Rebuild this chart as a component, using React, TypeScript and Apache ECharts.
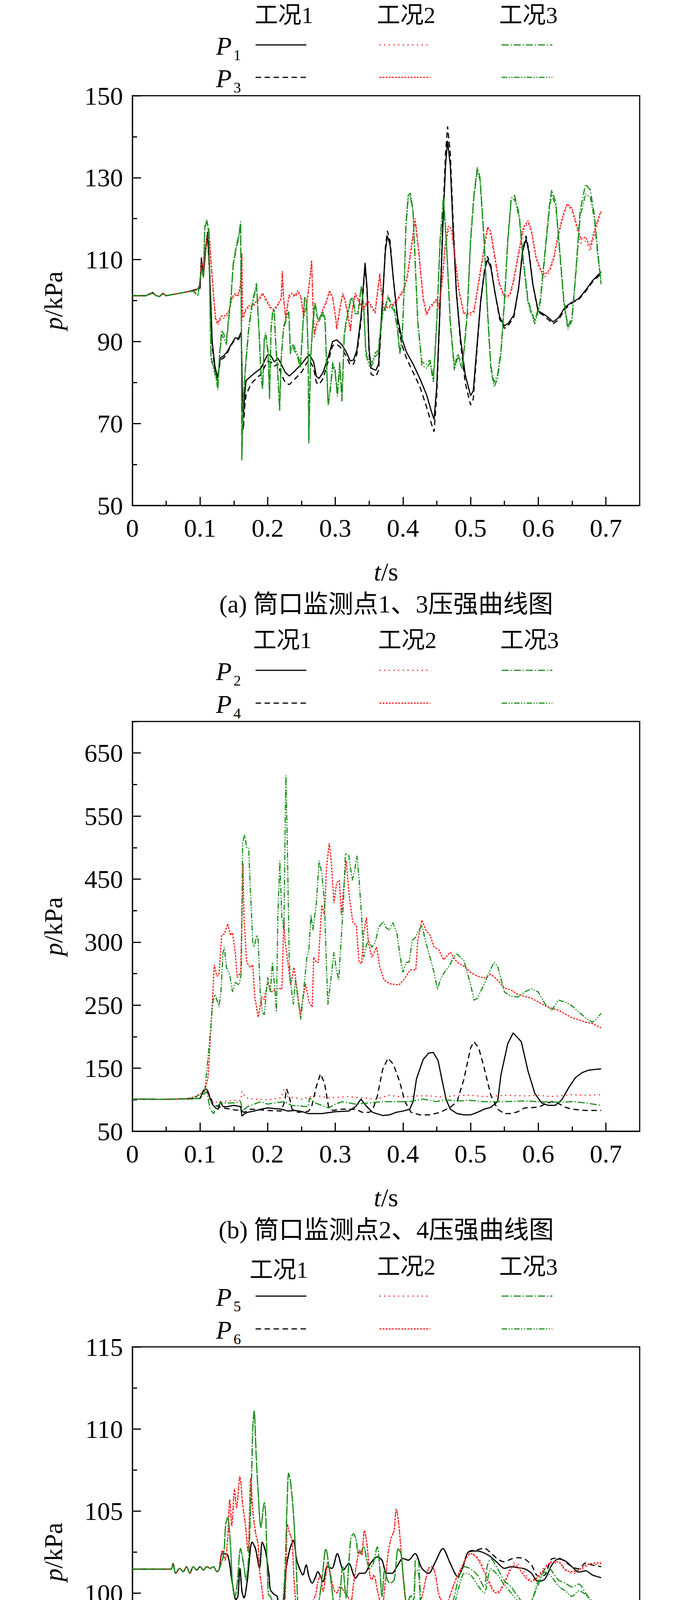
import React, { useEffect, useRef } from 'react';
import * as echarts from 'echarts';

type Pt = [number, number];

// ---------------- tick values / labels ----------------
const xTickVals = [0, 0.1, 0.2, 0.3, 0.4, 0.5, 0.6, 0.7];
const xMinorVals = [0.05, 0.15, 0.25, 0.35, 0.45, 0.55, 0.65];

const yTickA = [50, 70, 90, 110, 130, 150];
const yMinorA = [60, 80, 100, 120, 140];
const yTickB = [50, 150, 250, 350, 450, 550, 650];
const yLabelB = ['50', '150', '250', '300', '450', '550', '650'];
const yMinorB = [100, 200, 300, 400, 500, 600, 700];
const yTickC = [90, 95, 100, 105, 110, 115];
const yMinorC = [92.5, 97.5, 102.5, 107.5, 112.5];
const yTickD = [95, 105, 115, 125, 135, 145, 155, 165];
const yMinorD = [100, 110, 120, 130, 140, 150, 160, 170];
const yTickE = [92, 95, 98, 101, 104, 107, 110, 113];
const yMinorE = [93.5, 96.5, 99.5, 102.5, 105.5, 108.5, 111.5];

const conditions = ['工况1', '工况2', '工况3'];
const captions = [
  '(a) 筒口监测点1、3压强曲线图',
  '(b) 筒口监测点2、4压强曲线图',
  '(c) 筒口监测点5、6压强曲线图',
  '(d) 筒口监测点7压强曲线图',
  '(e) 筒口监测点8、9压强曲线图',
];

// ---------------- panel (a): P1 / P3 ----------------
const a_P1_c1: Pt[] = [[0,101.2],[0.02,101.2],[0.03,102.0],[0.035,101.2],[0.04,101.0],[0.045,101.8],[0.05,101.2],[0.06,101.5],[0.07,101.8],[0.08,102.1],[0.09,102.5],[0.1,103],[0.102,110.5],[0.105,106],[0.108,112],[0.111,116.5],[0.114,108],[0.118,90],[0.122,84],[0.126,81.2],[0.13,86],[0.135,86.5],[0.14,87.5],[0.145,89],[0.152,90.9],[0.157,90.8],[0.161,92.4],[0.1625,78],[0.164,71.5],[0.166,77],[0.168,80.5],[0.175,81.5],[0.18,82.2],[0.19,83.5],[0.196,85.5],[0.2,86.8],[0.205,86.5],[0.21,85],[0.215,86],[0.22,84.5],[0.226,82.5],[0.232,81.6],[0.24,82.8],[0.25,84.5],[0.258,86.2],[0.262,86.8],[0.268,85],[0.272,81.5],[0.276,81],[0.282,82.5],[0.29,86.5],[0.296,90],[0.302,90.4],[0.31,89.2],[0.316,87.5],[0.322,85.3],[0.327,85.5],[0.332,88],[0.338,96],[0.344,109.2],[0.347,103],[0.35,88],[0.353,83.5],[0.36,83],[0.364,84.5],[0.369,98],[0.374,112],[0.377,115.8],[0.381,113.5],[0.386,105],[0.392,96],[0.398,91],[0.405,87.5],[0.415,84.5],[0.425,81],[0.435,77],[0.442,73],[0.446,71],[0.45,79],[0.454,95],[0.459,118],[0.463,133],[0.466,139],[0.47,133],[0.474,118],[0.479,102],[0.485,91],[0.492,82],[0.5,76.8],[0.504,78],[0.509,88],[0.515,100],[0.521,107.5],[0.525,110],[0.53,108],[0.536,102],[0.543,96],[0.55,93.8],[0.556,94.5],[0.564,96.5],[0.571,103],[0.577,112],[0.582,115],[0.586,112],[0.592,104],[0.6,97.5],[0.607,96.8],[0.614,96],[0.622,94.8],[0.63,95.8],[0.64,98.5],[0.65,99.6],[0.66,100.5],[0.67,102.5],[0.68,104.8],[0.687,106],[0.693,107]];
const a_P3_c1: Pt[] = [[0,101.2],[0.02,101.2],[0.03,101.9],[0.035,101.2],[0.04,101.0],[0.045,101.7],[0.05,101.2],[0.06,101.5],[0.07,101.8],[0.08,102.1],[0.09,102.5],[0.1,103],[0.102,110],[0.105,106],[0.108,112],[0.111,116.8],[0.114,107],[0.118,89],[0.122,83],[0.126,80.5],[0.13,85.5],[0.135,86],[0.14,87],[0.145,88.8],[0.152,90.6],[0.157,90.5],[0.161,92],[0.1625,76],[0.164,68.5],[0.166,74],[0.168,77],[0.175,79.5],[0.18,80.5],[0.19,82],[0.196,84],[0.2,85.2],[0.205,85],[0.21,84],[0.215,84.5],[0.22,82],[0.226,80],[0.232,79.5],[0.24,80.8],[0.25,82.5],[0.258,84.8],[0.262,85.5],[0.268,83.5],[0.272,80],[0.276,79.5],[0.282,81],[0.29,85.5],[0.296,89],[0.302,89.4],[0.31,88.2],[0.316,86.5],[0.322,84.3],[0.327,84.5],[0.332,87],[0.338,95],[0.344,108.5],[0.347,102],[0.35,87],[0.353,82],[0.36,81.5],[0.364,83],[0.369,97],[0.374,113],[0.377,117],[0.381,114.5],[0.386,105],[0.392,95],[0.398,89.5],[0.405,86],[0.415,82.5],[0.425,79],[0.435,74],[0.442,70],[0.446,68],[0.45,77],[0.454,94],[0.459,120],[0.463,136],[0.466,142.5],[0.47,136],[0.474,120],[0.479,102],[0.485,90],[0.492,80],[0.5,74.5],[0.504,76],[0.509,87],[0.515,100],[0.521,108],[0.525,110.8],[0.53,108.5],[0.536,102],[0.543,95.5],[0.55,93.2],[0.556,94],[0.564,96],[0.571,103],[0.577,112.5],[0.582,115.8],[0.586,112.5],[0.592,104],[0.6,97.2],[0.607,96.5],[0.614,95.5],[0.622,94.3],[0.63,95.3],[0.64,98],[0.65,99.4],[0.66,100.3],[0.67,102.2],[0.68,104.5],[0.687,105.6],[0.693,106.5]];
const a_P1_c2: Pt[] = [[0,101.2],[0.02,101.2],[0.03,101.9],[0.035,101.2],[0.04,101.0],[0.045,101.7],[0.05,101.2],[0.06,101.5],[0.07,101.8],[0.08,102.1],[0.09,102.4],[0.0946,102.6],[0.099,103.5],[0.1026,108.9],[0.106,107.2],[0.1095,114.1],[0.113,117],[0.1163,108.9],[0.12,100.8],[0.123,95.1],[0.1265,93.9],[0.131,95.7],[0.137,95.7],[0.1425,96.8],[0.147,100.3],[0.1516,101.4],[0.156,100.8],[0.1596,103.2],[0.1618,110.7],[0.163,95.1],[0.1675,97.4],[0.172,98.5],[0.1766,98],[0.181,99.1],[0.1858,99.7],[0.1926,101.4],[0.1983,99.7],[0.204,98],[0.2085,97.4],[0.2142,98.5],[0.22,100.3],[0.2217,106.6],[0.2233,100.8],[0.2267,95.1],[0.2313,100.8],[0.236,101.4],[0.2404,100.8],[0.245,102],[0.2495,100.3],[0.253,95.7],[0.2575,98.5],[0.262,104.3],[0.265,109.2],[0.267,98.5],[0.269,91],[0.2723,93.9],[0.2769,95.1],[0.2814,97.4],[0.286,99.1],[0.2917,102],[0.2962,100.3],[0.3008,95.1],[0.302,92.8],[0.3065,97.4],[0.311,101.4],[0.3145,99.7],[0.318,96.8],[0.3224,92.2],[0.3247,96.8],[0.3293,101.4],[0.3315,100.8],[0.336,99.1],[0.3418,97.4],[0.3475,99.7],[0.3543,98],[0.3589,96.8],[0.3657,106.1],[0.368,102],[0.3725,97.4],[0.377,98],[0.384,98.5],[0.3908,99.7],[0.3976,101.4],[0.402,102.6],[0.4067,105.5],[0.4135,113.6],[0.418,119.4],[0.423,112],[0.43,100],[0.435,96.2],[0.44,98],[0.445,99],[0.45,100],[0.453,98],[0.458,104],[0.462,112],[0.467,117],[0.472,116.5],[0.477,110],[0.483,102],[0.49,96.5],[0.497,96.2],[0.505,97],[0.51,102],[0.518,110],[0.525,117.4],[0.53,116],[0.535,111],[0.542,104],[0.55,100.6],[0.558,101],[0.563,104],[0.57,110],[0.578,117],[0.585,119],[0.59,116.5],[0.597,110],[0.605,106.5],[0.61,105.8],[0.617,107],[0.623,110],[0.63,116],[0.638,121],[0.643,123.3],[0.65,122],[0.658,117],[0.663,114],[0.67,114.5],[0.677,112],[0.683,116],[0.69,120],[0.693,121.5]];
const a_P3_c2: Pt[] = [[0,101.2],[0.02,101.2],[0.03,101.9],[0.035,101.2],[0.04,101.0],[0.045,101.7],[0.05,101.2],[0.06,101.5],[0.07,101.8],[0.08,102.1],[0.09,102.4],[0.0946,102.5],[0.099,103.3],[0.1026,109.5],[0.106,107.5],[0.1095,114.8],[0.113,117.5],[0.1163,109.5],[0.12,101.5],[0.123,95.6],[0.1265,94.5],[0.131,96.2],[0.137,96.3],[0.1425,97.4],[0.147,100.6],[0.1516,101.7],[0.156,101.2],[0.1596,103.6],[0.1618,111.5],[0.163,95.8],[0.1675,97.8],[0.172,98.8],[0.1766,98.4],[0.181,99.5],[0.1858,100.1],[0.1926,101.8],[0.1983,100.1],[0.204,98.4],[0.2085,97.8],[0.2142,98.8],[0.22,100.6],[0.2217,107.2],[0.2233,101.2],[0.2267,95.6],[0.2313,101.2],[0.236,101.8],[0.2404,101.2],[0.245,102.4],[0.2495,100.7],[0.253,96.2],[0.2575,98.9],[0.262,104.8],[0.265,109.8],[0.267,99],[0.269,91.6],[0.2723,94.4],[0.2769,95.6],[0.2814,97.8],[0.286,99.5],[0.2917,102.4],[0.2962,100.7],[0.3008,95.6],[0.302,93.3],[0.3065,97.8],[0.311,101.8],[0.3145,100.1],[0.318,97.2],[0.3224,92.8],[0.3247,97.2],[0.3293,101.8],[0.3315,101.2],[0.336,99.5],[0.3418,97.8],[0.3475,100.1],[0.3543,98.4],[0.3589,97.2],[0.3657,106.6],[0.368,102.4],[0.3725,97.8],[0.377,98.4],[0.384,98.9],[0.3908,100.1],[0.3976,101.8],[0.402,103],[0.4067,106.2],[0.4135,114.5],[0.418,120],[0.423,112.8],[0.43,100.6],[0.435,96.8],[0.44,98.5],[0.445,99.4],[0.45,100.4],[0.453,98.5],[0.458,104.8],[0.462,113],[0.467,118.2],[0.472,117.5],[0.477,110.6],[0.483,102.4],[0.49,97],[0.497,96.7],[0.505,97.5],[0.51,102.6],[0.518,110.8],[0.525,118],[0.53,116.8],[0.535,111.6],[0.542,104.5],[0.55,101],[0.558,101.4],[0.563,104.6],[0.57,110.8],[0.578,117.8],[0.585,119.5],[0.59,117],[0.597,110.5],[0.605,107],[0.61,106.4],[0.617,107.6],[0.623,110.6],[0.63,116.5],[0.638,121.6],[0.643,123.6],[0.65,122.5],[0.658,117.8],[0.663,115],[0.67,115.5],[0.677,113],[0.683,117],[0.69,120.6],[0.693,121.8]];
const a_P1_c3: Pt[] = [[0,101.2],[0.02,101.2],[0.03,101.8],[0.035,101.2],[0.04,101.0],[0.045,101.6],[0.05,101.2],[0.06,101.5],[0.07,101.8],[0.08,102.1],[0.09,102.3],[0.0946,101.7],[0.097,101.4],[0.099,104.3],[0.1026,107.8],[0.105,105.5],[0.107,117.6],[0.11,119.3],[0.113,116.5],[0.1147,98.5],[0.1163,85.3],[0.12,84.1],[0.123,82.4],[0.1265,78.9],[0.1288,87],[0.132,92.8],[0.1357,91.6],[0.139,90.2],[0.1425,96.2],[0.146,101.4],[0.149,109],[0.1539,113.6],[0.1573,115.9],[0.16,119.3],[0.1612,92.8],[0.1618,61],[0.164,75.4],[0.1675,84.1],[0.172,92.8],[0.1766,98.5],[0.1835,103.7],[0.187,92.8],[0.1903,81.2],[0.1926,78.3],[0.1949,89.9],[0.197,91.6],[0.2006,87],[0.2028,76],[0.205,92.8],[0.2074,96.8],[0.2097,97.4],[0.212,88.7],[0.2142,84.1],[0.2177,73.1],[0.22,85.3],[0.2233,92.8],[0.2279,95.7],[0.2313,96.8],[0.2336,87],[0.237,88.7],[0.2404,87.6],[0.245,85.8],[0.2484,83.5],[0.2518,92.8],[0.2545,100.3],[0.2575,99.7],[0.2598,87],[0.2609,65],[0.2632,84.1],[0.2666,93.9],[0.27,99.1],[0.2735,95.7],[0.2769,95.1],[0.2814,96.8],[0.2848,95.1],[0.2871,84.1],[0.2894,74.3],[0.2928,78.3],[0.2962,84.1],[0.2997,82.4],[0.3031,76.6],[0.3065,84.1],[0.3099,75.4],[0.3133,91.6],[0.318,96.2],[0.3224,99.7],[0.3259,100.3],[0.3293,96.8],[0.3338,96.8],[0.3384,103.2],[0.3418,98.5],[0.3452,87],[0.3498,84.1],[0.3543,84.1],[0.3589,86.4],[0.3634,87],[0.3669,92.8],[0.3703,96.8],[0.3748,98.5],[0.3782,100.8],[0.3828,98.5],[0.3874,97.4],[0.3919,92.8],[0.3953,87],[0.3987,89.9],[0.402,104.3],[0.4044,118.8],[0.4078,125.7],[0.411,126.2],[0.415,122],[0.418,110],[0.422,95],[0.428,85],[0.435,84.5],[0.44,85.5],[0.445,81],[0.45,95],[0.455,115],[0.46,125.5],[0.465,112],[0.47,95],[0.476,84],[0.481,87],[0.488,84],[0.495,97],[0.5,115],[0.505,126],[0.51,132.5],[0.514,130],[0.52,115],[0.525,98],[0.53,84],[0.535,80],[0.54,82],[0.545,88],[0.55,100],[0.555,115],[0.56,125],[0.565,125.7],[0.572,121],[0.578,110],[0.585,100],[0.595,95],[0.603,100],[0.61,112],[0.617,124],[0.62,127],[0.626,124],[0.632,112],[0.638,100],[0.644,93.6],[0.65,96],[0.656,108],[0.662,122],[0.67,128.4],[0.677,127],[0.683,121],[0.688,112],[0.693,104]];
const a_P3_c3: Pt[] = [[0,101.2],[0.02,101.2],[0.03,101.8],[0.035,101.2],[0.04,101.0],[0.045,101.6],[0.05,101.2],[0.06,101.5],[0.07,101.8],[0.08,102.1],[0.09,102.3],[0.0946,101.5],[0.097,101.2],[0.099,104],[0.1026,107.5],[0.105,105.8],[0.107,118],[0.11,119.8],[0.113,117],[0.1147,99.5],[0.1163,86.5],[0.12,83.5],[0.123,81.5],[0.1265,78.2],[0.1288,86],[0.132,91.8],[0.1357,90.5],[0.139,89.2],[0.1425,95.4],[0.146,100.8],[0.149,108.4],[0.1539,113],[0.1573,115.3],[0.16,118.6],[0.1612,92],[0.1618,62],[0.164,76.2],[0.1675,84.8],[0.172,93.4],[0.1766,99],[0.1835,104.2],[0.187,93.4],[0.1903,82],[0.1926,79],[0.1949,90.6],[0.197,92.2],[0.2006,87.8],[0.2028,77],[0.205,93.4],[0.2074,97.3],[0.2097,97.9],[0.212,89.5],[0.2142,85],[0.2177,74],[0.22,86],[0.2233,93.4],[0.2279,96.3],[0.2313,97.3],[0.2336,87.8],[0.237,89.4],[0.2404,88.4],[0.245,86.6],[0.2484,84.2],[0.2518,93.4],[0.2545,100.8],[0.2575,100.2],[0.2598,87.8],[0.2609,66],[0.2632,85],[0.2666,94.5],[0.27,99.6],[0.2735,96.3],[0.2769,95.7],[0.2814,97.4],[0.2848,95.7],[0.2871,85],[0.2894,75],[0.2928,79],[0.2962,85],[0.2997,83.2],[0.3031,77.4],[0.3065,85],[0.3099,76.2],[0.3133,92.3],[0.318,96.8],[0.3224,100.2],[0.3259,100.8],[0.3293,97.4],[0.3338,97.4],[0.3384,103.6],[0.3418,99],[0.3452,87.8],[0.3498,85],[0.3543,85],[0.3589,87.2],[0.3634,87.8],[0.3669,93.4],[0.3703,97.4],[0.3748,99],[0.3782,101.2],[0.3828,99],[0.3874,97.9],[0.3919,93.4],[0.3953,87.8],[0.3987,90.6],[0.402,103.8],[0.4044,118],[0.4078,125],[0.411,125.4],[0.415,121.5],[0.418,109.5],[0.422,94.5],[0.428,84.2],[0.435,83.5],[0.44,84.8],[0.445,80],[0.45,94.2],[0.455,114.5],[0.46,124.8],[0.465,111.5],[0.47,94.3],[0.476,83],[0.481,86.2],[0.488,83.2],[0.495,96.2],[0.5,114.2],[0.505,125.2],[0.51,131.8],[0.514,129.4],[0.52,114.3],[0.525,97.2],[0.53,83],[0.535,79],[0.54,81],[0.545,87.2],[0.55,99.2],[0.555,114.2],[0.56,124.2],[0.565,124.8],[0.572,120.2],[0.578,109.2],[0.585,99.2],[0.595,94.3],[0.603,99.2],[0.61,111.2],[0.617,123],[0.62,125.8],[0.626,123],[0.632,111.2],[0.638,99.2],[0.644,93],[0.65,95.2],[0.656,107.2],[0.662,120.5],[0.67,126],[0.677,125.2],[0.683,120],[0.688,111],[0.693,105]];

// ---------------- panel (b): P2 / P4 ----------------
const b_P2_c1: Pt[] = [[0,101],[0.02,101],[0.04,100.5],[0.06,101],[0.08,101.5],[0.1,102],[0.105,115],[0.11,117],[0.114,105],[0.118,93],[0.123,87],[0.127,85],[0.13,97],[0.134,89],[0.14,89],[0.15,91],[0.16,89],[0.162,74],[0.166,78],[0.17,80],[0.18,82],[0.19,85],[0.2,87],[0.21,86],[0.22,85],[0.23,82],[0.24,83],[0.25,81.5],[0.26,78],[0.28,78],[0.3,81],[0.32,82],[0.33,89],[0.338,101],[0.345,91],[0.355,80],[0.37,75],[0.38,76],[0.39,80],[0.4,82],[0.41,85],[0.415,97],[0.42,133],[0.43,164],[0.438,174],[0.445,175],[0.452,162],[0.458,130],[0.464,100],[0.47,85],[0.48,78],[0.49,76],[0.5,76],[0.51,80],[0.52,85],[0.53,88],[0.54,97],[0.545,140],[0.555,189],[0.563,206],[0.575,192],[0.585,145],[0.595,110],[0.605,95],[0.615,91],[0.625,91],[0.635,100],[0.645,119],[0.655,135],[0.665,143],[0.675,147],[0.693,149]];
const b_P4_c1: Pt[] = [[0,101],[0.02,101],[0.04,100.5],[0.06,101],[0.08,101.5],[0.1,102],[0.105,113],[0.11,117],[0.115,105],[0.12,92],[0.13,88],[0.14,86],[0.15,84],[0.16,83],[0.165,80],[0.175,85],[0.2,83],[0.22,82],[0.225,97],[0.228,117],[0.232,105],[0.236,85],[0.245,80],[0.26,81.5],[0.265,89],[0.272,121],[0.278,141],[0.284,127],[0.29,89],[0.296,83],[0.31,85],[0.33,85],[0.34,80],[0.35,80],[0.355,83],[0.362,105],[0.37,148],[0.378,166],[0.386,156],[0.395,129],[0.403,97],[0.412,80],[0.425,76],[0.44,76],[0.455,80],[0.47,88],[0.48,97],[0.49,132],[0.5,182],[0.505,192],[0.512,182],[0.52,151],[0.53,107],[0.54,85],[0.55,78],[0.56,78],[0.57,81],[0.58,87],[0.6,88],[0.61,93],[0.62,97],[0.63,94],[0.64,88],[0.65,85],[0.67,83],[0.693,83]];
const b_P2_c2: Pt[] = [[0,101],[0.02,101],[0.04,100.5],[0.06,101],[0.08,101.5],[0.1,102],[0.105,112],[0.11,117],[0.115,97],[0.12,95],[0.13,97],[0.15,99],[0.16,99],[0.162,113],[0.168,103],[0.18,101],[0.2,100],[0.22,103],[0.224,117],[0.23,105],[0.25,101],[0.27,107],[0.29,103],[0.32,105],[0.34,103],[0.36,101],[0.38,107],[0.4,104],[0.42,106],[0.44,106],[0.46,104],[0.48,107],[0.5,107],[0.52,105],[0.55,107],[0.58,106],[0.6,107],[0.62,105],[0.65,108],[0.67,107],[0.693,108]];
const b_P4_c2: Pt[] = [[0,101],[0.02,101],[0.04,100.5],[0.06,101],[0.08,101.5],[0.093,105],[0.107,113],[0.112,137],[0.115,192],[0.119,271],[0.121,314],[0.125,296],[0.128,298],[0.132,361],[0.136,363],[0.141,379],[0.145,361],[0.148,365],[0.152,334],[0.155,294],[0.16,302],[0.162,389],[0.1635,475],[0.165,389],[0.167,353],[0.169,318],[0.174,310],[0.178,314],[0.181,263],[0.186,231],[0.191,263],[0.195,259],[0.2,286],[0.206,271],[0.211,275],[0.216,277],[0.221,275],[0.224,385],[0.226,349],[0.229,326],[0.234,282],[0.239,310],[0.244,271],[0.248,235],[0.252,259],[0.256,284],[0.261,255],[0.266,247],[0.268,326],[0.272,318],[0.275,318],[0.28,409],[0.284,393],[0.287,468],[0.291,507],[0.294,479],[0.298,412],[0.302,444],[0.306,448],[0.309,393],[0.313,444],[0.316,479],[0.321,420],[0.326,381],[0.331,377],[0.335,318],[0.339,316],[0.342,365],[0.346,389],[0.349,349],[0.354,326],[0.361,342],[0.366,310],[0.372,290],[0.38,284],[0.394,282],[0.401,290],[0.411,306],[0.419,306],[0.422,353],[0.428,385],[0.434,369],[0.44,361],[0.446,342],[0.453,338],[0.46,322],[0.47,334],[0.48,318],[0.49,312],[0.5,302],[0.51,296],[0.52,293],[0.53,299],[0.54,290],[0.55,277],[0.56,274],[0.57,267],[0.58,264],[0.59,261],[0.6,255],[0.61,249],[0.62,245],[0.63,242],[0.64,236],[0.65,230],[0.66,227],[0.67,223],[0.68,221],[0.693,214]];
const b_P2_c3: Pt[] = [[0,101],[0.02,101],[0.04,100.5],[0.06,101],[0.08,101.5],[0.1,102],[0.105,108],[0.11,113],[0.115,85],[0.12,78],[0.125,89],[0.13,95],[0.15,95],[0.16,97],[0.163,82],[0.17,89],[0.18,93],[0.19,97],[0.2,93],[0.21,95],[0.225,97],[0.235,91],[0.26,89],[0.262,103],[0.27,95],[0.28,91],[0.29,87],[0.3,93],[0.31,97],[0.33,93],[0.35,95],[0.37,97],[0.39,97],[0.41,97],[0.43,101],[0.45,97],[0.46,100],[0.48,98],[0.5,99],[0.52,97],[0.55,97],[0.58,98],[0.6,97],[0.63,96],[0.65,97],[0.67,95],[0.693,91]];
const b_P4_c3: Pt[] = [[0,101],[0.02,101],[0.04,100.5],[0.06,101],[0.08,101.5],[0.093,104],[0.107,113],[0.114,192],[0.119,255],[0.122,267],[0.126,255],[0.128,247],[0.131,271],[0.134,334],[0.136,342],[0.139,310],[0.144,298],[0.148,271],[0.152,286],[0.158,282],[0.161,302],[0.163,507],[0.166,521],[0.169,499],[0.172,499],[0.174,444],[0.178,349],[0.18,342],[0.184,361],[0.186,353],[0.189,271],[0.192,239],[0.195,235],[0.2,294],[0.204,271],[0.207,318],[0.211,271],[0.213,239],[0.215,389],[0.218,479],[0.221,389],[0.224,369],[0.226,546],[0.227,615],[0.229,507],[0.232,318],[0.234,286],[0.238,251],[0.241,290],[0.246,251],[0.249,227],[0.253,271],[0.258,326],[0.261,338],[0.264,393],[0.267,369],[0.272,412],[0.276,479],[0.28,460],[0.284,412],[0.287,310],[0.289,251],[0.293,286],[0.298,334],[0.301,310],[0.305,290],[0.308,342],[0.312,412],[0.315,491],[0.32,487],[0.325,448],[0.328,460],[0.332,487],[0.335,452],[0.339,389],[0.342,326],[0.346,345],[0.349,353],[0.354,342],[0.359,349],[0.364,373],[0.371,383],[0.375,373],[0.38,369],[0.385,381],[0.391,365],[0.396,326],[0.4,302],[0.405,318],[0.409,318],[0.414,353],[0.418,357],[0.428,377],[0.434,349],[0.441,322],[0.446,302],[0.451,275],[0.455,290],[0.46,300],[0.47,315],[0.475,327],[0.48,331],[0.49,321],[0.5,283],[0.505,258],[0.51,261],[0.52,283],[0.53,308],[0.535,318],[0.54,312],[0.55,271],[0.56,264],[0.57,263],[0.58,271],[0.59,276],[0.6,271],[0.61,252],[0.62,242],[0.63,258],[0.64,255],[0.65,249],[0.66,239],[0.67,230],[0.68,223],[0.685,227],[0.693,237]];

// ---------------- panel (c): P5 / P6 ----------------
const c_base: Pt[] = [[0,101.45],[0.057,101.45],[0.06,101.8],[0.064,101.2],[0.07,101.5],[0.075,101.3],[0.08,101.6],[0.085,101.2],[0.09,101.6],[0.095,101.4],[0.1,101.6],[0.105,101.4],[0.11,101.6],[0.115,101.5],[0.12,101.6],[0.125,101.3],[0.128,101.4]];
const c_black_early: Pt[] = [[0.133,102.4],[0.141,102.3],[0.147,100.8],[0.153,99.6],[0.156,99.8],[0.159,101.5],[0.162,100.1],[0.165,99.7],[0.17,100.8],[0.177,103.1],[0.182,102.7],[0.188,101.5],[0.192,103.1],[0.197,102.5],[0.202,101.1],[0.204,100.2],[0.21,99.9],[0.214,99.8],[0.219,98.5],[0.223,99],[0.227,101.4],[0.233,102.7],[0.238,103.2],[0.243,102],[0.248,101.4],[0.252,101.1],[0.257,101.7],[0.261,101],[0.266,100.6],[0.271,101],[0.274,101.3],[0.282,100.7],[0.288,101.6],[0.295,101.5],[0.303,102.4],[0.312,101.4],[0.32,101.8],[0.33,100.9],[0.336,101.2],[0.343,101.2],[0.352,101.8],[0.362,102.2],[0.369,102],[0.376,101.2],[0.384,101.2],[0.391,101.6],[0.4,102.1],[0.408,102],[0.418,102.4],[0.428,101.5],[0.438,101.2],[0.448,101.9],[0.459,102.7],[0.47,101.8],[0.481,101],[0.488,101.5],[0.497,102.5]];
const c_P5_c1_late: Pt[] = [[0.51,102.56],[0.52,102.44],[0.53,102.2],[0.54,101.83],[0.55,101.5],[0.56,101.6],[0.57,101.54],[0.58,101.47],[0.59,101.2],[0.6,100.7],[0.61,100.86],[0.62,101.7],[0.63,102.07],[0.64,101.95],[0.65,101.6],[0.66,101.27],[0.67,101.35],[0.68,101.1],[0.693,100.93]];
const c_P6_c1_late: Pt[] = [[0.51,102.63],[0.52,102.73],[0.53,102.44],[0.54,102.07],[0.55,101.9],[0.56,102.07],[0.57,102.15],[0.58,102.07],[0.59,101.7],[0.6,101.03],[0.61,101.1],[0.62,102.07],[0.63,102.12],[0.64,101.9],[0.65,101.6],[0.66,101.47],[0.67,101.83],[0.68,101.7],[0.693,101.6]];
const c_red_early: Pt[] = [[0.133,102.6],[0.137,102],[0.141,103.4],[0.144,105.7],[0.147,104.1],[0.151,106.3],[0.154,105.2],[0.159,107.1],[0.163,105.4],[0.167,104.2],[0.171,102.5],[0.175,107],[0.178,105],[0.182,103.7],[0.186,102.9],[0.188,101.4],[0.192,100.1],[0.196,98.6],[0.2,96],[0.203,94.3],[0.207,93.4],[0.212,94.7],[0.216,96.7],[0.219,98.5],[0.223,98.4],[0.227,101],[0.229,104.2],[0.232,103.7],[0.236,103.2],[0.239,100.8],[0.242,99.3],[0.246,98.6],[0.251,98],[0.256,97.1],[0.259,96.6],[0.263,97.3],[0.267,99.5],[0.271,99.9],[0.274,100.6],[0.278,101.1],[0.282,100.1],[0.286,101.1],[0.289,101.9],[0.293,101.1],[0.298,100.2],[0.302,100],[0.307,100.4],[0.313,100.1],[0.318,99.8],[0.323,99.5],[0.327,100.6],[0.332,101.9],[0.336,102.6],[0.339,102.3],[0.343,103.8],[0.347,102.9],[0.351,101.1],[0.354,100.8],[0.357,101.1],[0.362,100.2],[0.366,99.5],[0.369,99.1],[0.373,100.3],[0.378,102.4],[0.383,103.4],[0.387,103.8],[0.39,105.1],[0.393,104.5],[0.397,102.7],[0.4,101.1],[0.403,99.8],[0.407,99],[0.412,98.5],[0.416,98.7],[0.419,98.7],[0.424,99.3],[0.429,99.9],[0.433,100.7],[0.438,101.5],[0.443,101.6],[0.448,101.1],[0.453,99.9],[0.458,99.5],[0.464,99.3],[0.47,99.9],[0.478,100.8],[0.486,101.5],[0.493,102.1]];
const c_P5_c2_late: Pt[] = [[0.5,102.44],[0.51,102.2],[0.52,101.47],[0.53,100.54],[0.535,100.13],[0.54,100.1],[0.55,100.7],[0.56,101.66],[0.565,101.83],[0.57,101.78],[0.58,101.2],[0.59,100.78],[0.6,101.1],[0.61,101.6],[0.62,101.83],[0.63,101.83],[0.64,101.47],[0.65,101.2],[0.66,101.27],[0.67,101.6],[0.68,101.7],[0.693,101.78]];
const c_P6_c2_late: Pt[] = [[0.5,102.4],[0.51,102.1],[0.52,101.3],[0.53,100.4],[0.535,100.05],[0.54,100.0],[0.55,100.6],[0.56,101.5],[0.565,101.7],[0.57,101.6],[0.58,101.0],[0.59,100.7],[0.6,101.0],[0.61,101.5],[0.62,101.9],[0.63,101.9],[0.64,101.4],[0.65,101.3],[0.66,101.4],[0.67,101.7],[0.68,101.8],[0.693,101.85]];
const c_green_early: Pt[] = [[0.135,102.4],[0.138,104.2],[0.141,104.6],[0.145,102.9],[0.148,100.6],[0.152,99.8],[0.155,100.6],[0.16,102.7],[0.165,101.6],[0.168,100.8],[0.172,102.3],[0.176,106.8],[0.178,110],[0.18,111.1],[0.183,108.4],[0.186,106.1],[0.19,104],[0.195,105.5],[0.197,104.8],[0.201,99.9],[0.204,99.8],[0.208,99.3],[0.213,97.6],[0.217,98.2],[0.222,99.1],[0.226,101.8],[0.229,105.8],[0.231,107.3],[0.234,106.7],[0.238,104.9],[0.242,101.9],[0.246,98],[0.251,95.3],[0.256,95.3],[0.261,93.6],[0.265,94],[0.268,96.9],[0.272,98.5],[0.277,99.8],[0.281,101.1],[0.286,102.7],[0.291,101.5],[0.296,99.9],[0.301,98],[0.306,99.4],[0.311,101.6],[0.316,99.7],[0.32,101.8],[0.323,103.3],[0.327,103.6],[0.331,103.2],[0.334,102.4],[0.338,102.5],[0.342,102.8],[0.347,101.9],[0.351,101.5],[0.356,101.8],[0.362,102.8],[0.366,101.4],[0.369,99.8],[0.373,101.4],[0.377,100.8],[0.381,100.6],[0.387,100.8],[0.393,102.7],[0.397,102.4],[0.401,100.8],[0.406,99.3],[0.411,99.8]];
const c_P5_c3_late: Pt[] = [[0.416,99.9],[0.419,102.1],[0.423,101.9],[0.427,99.3],[0.433,98.6],[0.438,98.2],[0.446,99.1],[0.451,99.5],[0.456,99],[0.462,98.6],[0.468,98.7],[0.476,99.8],[0.483,101],[0.491,101.6],[0.5,101.47],[0.51,101.1],[0.52,100.37],[0.525,101.7],[0.53,102.07],[0.54,101.47],[0.55,100.74],[0.56,100.37],[0.57,99.77],[0.58,99.28],[0.585,99.16],[0.59,99.5],[0.6,100.5],[0.61,101.47],[0.615,101.6],[0.62,101.35],[0.63,100.79],[0.64,100.6],[0.65,100.37],[0.66,100.54],[0.67,100],[0.68,99.5],[0.693,99.33]];
const c_P6_c3_late: Pt[] = [[0.416,99.6],[0.419,101.5],[0.423,101.2],[0.427,98.9],[0.433,98.2],[0.438,98.1],[0.446,98.8],[0.451,99.2],[0.456,98.6],[0.462,98.4],[0.468,98.5],[0.476,99.3],[0.483,100.4],[0.491,101.2],[0.5,101.1],[0.51,100.5],[0.52,100.0],[0.53,101.47],[0.54,101.1],[0.55,100.5],[0.56,100.0],[0.57,99.5],[0.58,99.2],[0.59,99.5],[0.6,100.74],[0.61,101.27],[0.62,100.98],[0.63,100.42],[0.64,100.13],[0.65,99.8],[0.66,100.13],[0.67,99.9],[0.68,99.4],[0.693,99.28]];
const c_P5_c1: Pt[] = [...c_base, ...c_black_early, ...c_P5_c1_late];
const c_P6_c1: Pt[] = [...c_base, ...c_black_early, ...c_P6_c1_late];
const c_P5_c2: Pt[] = [...c_base, ...c_red_early, ...c_P5_c2_late];
const c_P6_c2: Pt[] = [...c_base, ...c_red_early, ...c_P6_c2_late];
const c_P5_c3: Pt[] = [...c_base, ...c_green_early, ...c_P5_c3_late];
const c_P6_c3: Pt[] = [...c_base, ...c_green_early, ...c_P6_c3_late];

// ---------------- panel (d): P7 ----------------
const d_base: Pt[] = [[0,101.5],[0.07,101.5],[0.075,101.1],[0.08,101.5],[0.1,101.5],[0.135,101.6]];
const d_P7_c1: Pt[] = [...d_base, [0.14,102.2],[0.145,103.1],[0.15,101.3],[0.155,98.7],[0.16,98.2],[0.165,100.2],[0.17,103.8],[0.175,104.1],[0.18,102.7],[0.185,101.6],[0.19,101.4],[0.195,102.4],[0.2,103.6],[0.205,101.3],[0.21,98],[0.215,97.4],[0.22,99.1],[0.225,101.6],[0.23,103.3],[0.235,103.6],[0.24,102.7],[0.245,101.6],[0.25,101.4],[0.26,101.1],[0.27,101.4],[0.28,101.3],[0.29,101.4],[0.3,101.3],[0.31,101.8],[0.32,101.7],[0.33,101.3],[0.34,100.7],[0.35,102],[0.355,102.6],[0.36,102.4],[0.37,101.6],[0.38,101.3],[0.39,100.9],[0.4,102],[0.41,102.4],[0.42,102.2],[0.43,101.3],[0.435,100.5],[0.44,100.9],[0.45,102],[0.46,102.2],[0.465,102],[0.47,100.9],[0.475,100.3],[0.48,100.5],[0.49,101.9],[0.5,102.2],[0.51,102],[0.52,101.8],[0.53,102],[0.54,101.3],[0.55,101.8],[0.56,101.4],[0.57,101.3],[0.58,101.9],[0.59,101.8],[0.6,101.3],[0.61,100.9],[0.62,101.9],[0.63,102],[0.64,101.9],[0.65,101.4],[0.66,101.1],[0.67,101.6],[0.68,101.5],[0.693,101.3]];
const d_P7_c2: Pt[] = [...d_base, [0.14,103.8],[0.145,105.8],[0.15,108.6],[0.155,112.2],[0.16,118.1],[0.165,123.9],[0.17,128.3],[0.175,134.1],[0.178,135.2],[0.182,144.3],[0.186,144.7],[0.192,140],[0.197,132.7],[0.203,125.4],[0.208,123.9],[0.213,127.1],[0.22,132],[0.225,132.7],[0.23,141.4],[0.234,158.2],[0.236,164.4],[0.24,159.7],[0.245,146.5],[0.25,140],[0.255,135.6],[0.26,132.7],[0.263,130.8],[0.27,133.4],[0.275,135.6],[0.28,136.7],[0.283,135.6],[0.287,142.9],[0.29,144.5],[0.295,139.3],[0.3,132.7],[0.305,129],[0.31,126.1],[0.315,123.9],[0.32,122.3],[0.325,124.6],[0.33,128.3],[0.335,129.4],[0.34,131.2],[0.345,135.2],[0.35,133.4],[0.355,128.3],[0.36,121.7],[0.365,118.8],[0.37,119.5],[0.375,122.4],[0.38,125.4],[0.385,128.3],[0.39,131.2],[0.395,132.1],[0.4,131.2],[0.41,130.8],[0.42,130.8],[0.43,130.6],[0.435,132.7],[0.44,134.9],[0.445,136.5],[0.45,136.3],[0.455,134.1],[0.46,129.7],[0.465,127.1],[0.47,125.4],[0.475,125.5],[0.48,126.1],[0.485,127.6],[0.49,128.4],[0.495,129],[0.5,128.9],[0.505,127.6],[0.51,126.8],[0.52,125.7],[0.53,125.5],[0.54,125.7],[0.55,125.4],[0.56,124.6],[0.57,124.1],[0.58,123.3],[0.59,122.6],[0.6,122.3],[0.61,122.1],[0.62,121],[0.63,119.9],[0.64,118.9],[0.65,118.6],[0.66,118.1],[0.67,117.5],[0.68,116.6],[0.693,115.7]];
const d_P7_c3: Pt[] = [...d_base, [0.14,102.7],[0.145,104.6],[0.15,102],[0.155,99.1],[0.16,96.8],[0.165,101.3],[0.17,106],[0.175,105.7],[0.18,108.6],[0.185,111.9],[0.19,112.6],[0.195,108.6],[0.2,104.9],[0.205,102],[0.21,103.1],[0.215,105.3],[0.22,107.8],[0.225,111.1],[0.23,115.1],[0.235,116.8],[0.24,114.4],[0.245,107.8],[0.25,102],[0.255,98.4],[0.26,99.8],[0.265,103.1],[0.27,105.7],[0.275,107.1],[0.28,108],[0.285,108],[0.29,107.1],[0.295,104.9],[0.3,103.8],[0.305,102],[0.31,102.7],[0.315,106.4],[0.32,106.8],[0.33,106],[0.34,105.7],[0.345,104.9],[0.35,103.8],[0.355,104.2],[0.36,104.2],[0.365,104.6],[0.37,104.1],[0.375,103.2],[0.38,103.5],[0.39,103.8],[0.4,103.3],[0.41,102.7],[0.42,101.4],[0.425,100.5],[0.43,102],[0.44,102.2],[0.45,102.2],[0.46,100.9],[0.465,100.2],[0.47,100.4],[0.48,101.6],[0.49,103.1],[0.5,103.5],[0.51,102.9],[0.52,103.8],[0.525,104.2],[0.53,103.8],[0.54,102.7],[0.55,101.6],[0.56,101.3],[0.57,100.9],[0.58,101.1],[0.59,101.5],[0.6,101.8],[0.61,101.9],[0.62,101.8],[0.64,102],[0.66,101.6],[0.68,101.4],[0.693,101.3]];

// ---------------- panel (e): P8 / P9 ----------------
const e_base: Pt[] = [[0,101.45],[0.065,101.45],[0.068,101.8],[0.07,101.4],[0.073,101.9],[0.076,101.2],[0.08,101.5],[0.083,101.1],[0.09,101.4],[0.095,101.6],[0.1,101.3],[0.105,101.6],[0.11,101.4],[0.116,101.57],[0.126,101.6],[0.131,101.4]];
const e_black_early: Pt[] = [[0.14,101.9],[0.143,102.3],[0.148,103],[0.152,102.6],[0.156,101],[0.16,99],[0.162,98.3],[0.166,99.4],[0.17,100.8],[0.173,102.9],[0.177,103.8],[0.181,103.6],[0.185,102.2],[0.19,101.2],[0.193,101.2],[0.198,102.6],[0.202,102.4],[0.207,102.9],[0.211,101.1],[0.215,98.8],[0.218,97],[0.222,97.6],[0.226,100.5],[0.23,102.9],[0.233,104.2],[0.238,104.8],[0.242,104],[0.246,102.3],[0.251,100.9],[0.257,101.3],[0.263,101.2],[0.268,100.9],[0.273,100.6],[0.277,100.2],[0.283,101],[0.291,101.7],[0.297,102.4],[0.302,102.7],[0.308,101.6],[0.314,101.1],[0.322,100.7],[0.328,101],[0.336,101.8],[0.341,101.7],[0.346,101.3],[0.353,101.7],[0.361,102.4],[0.366,102],[0.373,101.1],[0.381,100.5],[0.387,101.5],[0.395,102.6],[0.401,102],[0.408,101.2],[0.414,101.9],[0.422,102.6],[0.429,101.9],[0.439,100.9],[0.447,101.5],[0.454,102.5],[0.461,102.6],[0.468,101.9],[0.477,101],[0.484,101.3],[0.496,101.9],[0.507,102.3]];
const e_P8_c1_late: Pt[] = [[0.51,102.3],[0.52,102.4],[0.53,102.4],[0.535,102.3],[0.54,101.8],[0.545,101.25],[0.55,101.35],[0.555,101.9],[0.56,102.4],[0.565,102.75],[0.57,102.8],[0.58,102.55],[0.59,102.1],[0.6,101.6],[0.605,101.5],[0.61,101.7],[0.62,102.4],[0.63,102.7],[0.64,102.6],[0.65,102.3],[0.66,101.96],[0.665,101.9],[0.67,102.1],[0.68,102.5],[0.693,102.1]];
const e_P9_c1_late: Pt[] = [[0.51,102.35],[0.52,102.5],[0.53,102.5],[0.535,102.35],[0.54,101.9],[0.545,101.3],[0.55,101.3],[0.555,101.8],[0.56,102.3],[0.565,102.8],[0.57,102.85],[0.58,102.6],[0.59,102.2],[0.6,101.7],[0.605,101.6],[0.61,101.75],[0.62,102.35],[0.63,102.7],[0.64,102.65],[0.65,102.35],[0.66,102.0],[0.665,101.95],[0.67,102.05],[0.68,102.45],[0.693,102.2]];
const e_red_early: Pt[] = [[0.14,102.2],[0.143,102.3],[0.147,104.5],[0.151,105.4],[0.154,104.7],[0.158,105.3],[0.161,103.3],[0.166,102.9],[0.17,102.4],[0.173,103.1],[0.177,102.9],[0.18,102.3],[0.182,103.8],[0.186,105.9],[0.19,105.9],[0.193,106.2],[0.198,104.7],[0.202,102.3],[0.205,99.4],[0.207,95.9],[0.211,95.6],[0.215,96.4],[0.218,97.6],[0.222,98.8],[0.226,101.7],[0.231,104],[0.233,104.7],[0.238,104.2],[0.242,102.9],[0.246,100],[0.251,99],[0.256,98.4],[0.259,97.7],[0.263,97.9],[0.268,98.5],[0.273,99.6],[0.278,100.5],[0.284,101.2],[0.29,102.3],[0.293,104],[0.297,103.6],[0.301,101.7],[0.306,100.8],[0.312,100.8],[0.317,100.3],[0.323,100],[0.328,100.1],[0.333,101.7],[0.337,103.7],[0.341,103.3],[0.345,102.9],[0.348,103.5],[0.353,102.1],[0.357,101.5],[0.362,100.8],[0.366,99.6],[0.369,99],[0.374,100.5],[0.379,102.1],[0.384,104],[0.388,104.7],[0.392,104.5],[0.397,102.9],[0.402,101.2],[0.408,100.1],[0.414,99.6],[0.421,99.1],[0.427,99.8],[0.433,101],[0.439,102.1],[0.447,102.9],[0.453,102.5],[0.459,101.7],[0.466,101],[0.473,100.1],[0.478,100.2],[0.486,101.7],[0.496,102],[0.507,102.3]];
const e_P8_c2_late: Pt[] = [[0.51,102.4],[0.52,101.9],[0.53,100.9],[0.535,100.5],[0.54,100.7],[0.55,101.6],[0.56,102],[0.565,101.96],[0.57,101.6],[0.58,101],[0.59,100.9],[0.6,101.2],[0.61,101.6],[0.62,101.96],[0.63,101.7],[0.64,101.4],[0.65,101.3],[0.66,101.5],[0.67,101.7],[0.68,101.8],[0.693,101.8]];
const e_P9_c2_late: Pt[] = [[0.51,102.3],[0.52,101.7],[0.53,100.7],[0.535,100.35],[0.54,100.6],[0.55,101.5],[0.56,101.95],[0.565,101.9],[0.57,101.5],[0.58,100.9],[0.59,100.8],[0.6,101.1],[0.61,101.5],[0.62,101.9],[0.63,101.6],[0.64,101.3],[0.65,101.2],[0.66,101.4],[0.67,101.6],[0.68,101.7],[0.693,101.75]];
const e_green_early: Pt[] = [[0.14,102],[0.143,102.6],[0.148,104.5],[0.151,104.2],[0.153,102.9],[0.156,100.5],[0.16,98.8],[0.162,97.7],[0.166,98.8],[0.17,100.5],[0.173,104],[0.177,104.9],[0.18,104.5],[0.183,104],[0.187,105.9],[0.191,105.8],[0.193,106],[0.198,104.7],[0.203,102.6],[0.207,98.8],[0.211,96.1],[0.213,95.9],[0.217,97],[0.222,99.4],[0.227,102.9],[0.231,105.6],[0.234,109.3],[0.238,111.7],[0.242,109.8],[0.246,104.6],[0.248,99.4],[0.252,98.9],[0.254,98.5],[0.258,95.9],[0.262,94.2],[0.266,95.6],[0.271,98.2],[0.276,100],[0.281,102],[0.286,103.7],[0.291,104.5],[0.294,103.4],[0.298,100.5],[0.301,100.2],[0.304,101.1],[0.308,100],[0.313,98.2],[0.316,98],[0.32,99.4],[0.324,101.1],[0.329,102.9],[0.334,103.9],[0.342,104.1],[0.347,104.4],[0.352,102.6],[0.357,102.5],[0.362,102.1],[0.366,101.3],[0.369,100.5],[0.374,101.5],[0.381,104],[0.386,104.8],[0.391,104.5],[0.395,105.6],[0.398,106.4],[0.402,105.4],[0.406,104.7],[0.41,104.9],[0.413,105.5],[0.417,104.9],[0.421,104]];
const e_P8_c3_late: Pt[] = [[0.428,104.7],[0.433,105.1],[0.441,105],[0.446,104.8],[0.451,103.6],[0.456,101.7],[0.461,100.8],[0.467,100.3],[0.473,101],[0.481,102.6],[0.488,103.6],[0.494,103.7],[0.501,103.1],[0.505,102.3],[0.51,100.9],[0.515,100.6],[0.52,101.25],[0.53,102.2],[0.535,102.5],[0.54,102.6],[0.545,102.4],[0.55,101.9],[0.555,101.35],[0.56,101.1],[0.565,101],[0.57,101.2],[0.58,101.8],[0.59,102.6],[0.6,103.3],[0.605,103.4],[0.61,103.1],[0.62,102.2],[0.625,101.9],[0.63,101.96],[0.64,102.3],[0.65,102.86],[0.66,103.2],[0.665,103.3],[0.67,103.2],[0.68,102.75],[0.693,102.7]];
const e_P9_c3_late: Pt[] = [[0.428,104.5],[0.433,104.8],[0.441,104.7],[0.446,104.5],[0.451,103.3],[0.456,101.5],[0.461,100.6],[0.467,100.2],[0.473,100.9],[0.481,102.4],[0.488,103.4],[0.494,103.6],[0.501,103],[0.505,102.2],[0.51,100.8],[0.515,100.5],[0.52,101.1],[0.53,102.1],[0.535,102.4],[0.54,102.5],[0.545,102.3],[0.55,101.8],[0.555,101.3],[0.56,101.05],[0.565,100.95],[0.57,101.1],[0.58,101.7],[0.59,102.5],[0.6,103.2],[0.605,103.3],[0.61,103],[0.62,102.1],[0.625,101.8],[0.63,101.85],[0.64,102.15],[0.65,102.6],[0.66,102.9],[0.665,103],[0.67,102.95],[0.68,102.6],[0.693,102.6]];
const e_P8_c1: Pt[] = [...e_base, ...e_black_early, ...e_P8_c1_late];
const e_P9_c1: Pt[] = [...e_base, ...e_black_early, ...e_P9_c1_late];
const e_P8_c2: Pt[] = [...e_base, ...e_red_early, ...e_P8_c2_late];
const e_P9_c2: Pt[] = [...e_base, ...e_red_early, ...e_P9_c2_late];
const e_P8_c3: Pt[] = [...e_base, ...e_green_early, ...e_P8_c3_late];
const e_P9_c3: Pt[] = [...e_base, ...e_green_early, ...e_P9_c3_late];

// ---------------- styles & layout ----------------
const W = 1772;
const H = 7918;
const SERIF = '"Liberation Serif", "Times New Roman", serif';
const MIXED = '"Liberation Serif", "Noto Sans CJK SC", serif';
const BLACK = '#000000';
const RED = '#ff1f1f';
const GREEN = '#1c8f1c';

const STYLE: Record<string, { color: string; type: any }> = {
  c1r1: { color: BLACK, type: 'solid' },
  c1r2: { color: BLACK, type: [14, 9] },
  c2r1: { color: RED, type: [3, 9] },
  c2r2: { color: RED, type: [5, 3] },
  c3r1: { color: GREEN, type: [18, 5, 3, 5] },
  c3r2: { color: GREEN, type: [14, 4, 3, 4, 3, 4] },
  d1: { color: BLACK, type: 'solid' },
  d2: { color: '#ff4a4a', type: [12, 8] },
  d3: { color: GREEN, type: [3, 6] },
};

interface SeriesDef { name: string; data: Pt[]; style: string; col: number; row: number }
interface PanelDef {
  top: number; height: number; yMin: number; yMax: number;
  yTicks: number[]; yLabels: string[]; yMinor: number[];
  rows: string[]; rowY: number[]; headerY: number[]; headerX: number[];
  captionY: number; smooth: number | boolean; series: SeriesDef[];
}

const PANELS: PanelDef[] = [
  {
    top: 245, height: 1049, yMin: 50, yMax: 150, yTicks: yTickA, yLabels: yTickA.map(String), yMinor: yMinorA,
    rows: ['1', '3'], rowY: [117, 200], headerY: [39, 39, 39], headerX: [727, 1040, 1353], captionY: 1546, smooth: false,
    series: [
      { name: 'aP1c1', data: a_P1_c1, style: 'c1r1', col: 0, row: 0 },
      { name: 'aP3c1', data: a_P3_c1, style: 'c1r2', col: 0, row: 1 },
      { name: 'aP1c2', data: a_P1_c2, style: 'c2r1', col: 1, row: 0 },
      { name: 'aP3c2', data: a_P3_c2, style: 'c2r2', col: 1, row: 1 },
      { name: 'aP1c3', data: a_P1_c3, style: 'c3r1', col: 2, row: 0 },
      { name: 'aP3c3', data: a_P3_c3, style: 'c3r2', col: 2, row: 1 },
    ],
  },
  {
    top: 1847, height: 1049, yMin: 50, yMax: 700, yTicks: yTickB, yLabels: yLabelB, yMinor: yMinorB,
    rows: ['2', '4'], rowY: [1718, 1802], headerY: [1639, 1639, 1639], headerX: [723, 1043, 1356], captionY: 3148, smooth: false,
    series: [
      { name: 'bP2c1', data: b_P2_c1, style: 'c1r1', col: 0, row: 0 },
      { name: 'bP4c1', data: b_P4_c1, style: 'c1r2', col: 0, row: 1 },
      { name: 'bP2c2', data: b_P2_c2, style: 'c2r1', col: 1, row: 0 },
      { name: 'bP4c2', data: b_P4_c2, style: 'c2r2', col: 1, row: 1 },
      { name: 'bP2c3', data: b_P2_c3, style: 'c3r1', col: 2, row: 0 },
      { name: 'bP4c3', data: b_P4_c3, style: 'c3r2', col: 2, row: 1 },
    ],
  },
  {
    top: 3448, height: 1050, yMin: 90, yMax: 115, yTicks: yTickC, yLabels: yTickC.map(String), yMinor: yMinorC,
    rows: ['5', '6'], rowY: [3320, 3404], headerY: [3251, 3243, 3243], headerX: [714, 1040, 1353], captionY: 4749, smooth: 0.3,
    series: [
      { name: 'cP5c1', data: c_P5_c1, style: 'c1r1', col: 0, row: 0 },
      { name: 'cP6c1', data: c_P6_c1, style: 'c1r2', col: 0, row: 1 },
      { name: 'cP5c2', data: c_P5_c2, style: 'c2r1', col: 1, row: 0 },
      { name: 'cP6c2', data: c_P6_c2, style: 'c2r2', col: 1, row: 1 },
      { name: 'cP5c3', data: c_P5_c3, style: 'c3r1', col: 2, row: 0 },
      { name: 'cP6c3', data: c_P6_c3, style: 'c3r2', col: 2, row: 1 },
    ],
  },
  {
    top: 4973, height: 1047, yMin: 95, yMax: 170, yTicks: yTickD, yLabels: yTickD.map(String), yMinor: yMinorD,
    rows: ['7'], rowY: [4920], headerY: [4844, 4844, 4844], headerX: [720, 1037, 1350], captionY: 6274, smooth: 0.3,
    series: [
      { name: 'dP7c1', data: d_P7_c1, style: 'd1', col: 0, row: 0 },
      { name: 'dP7c2', data: d_P7_c2, style: 'd2', col: 1, row: 0 },
      { name: 'dP7c3', data: d_P7_c3, style: 'd3', col: 2, row: 0 },
    ],
  },
  {
    top: 6573, height: 1048, yMin: 92, yMax: 114, yTicks: yTickE, yLabels: yTickE.map(String), yMinor: yMinorE,
    rows: ['8', '9'], rowY: [6444, 6528], headerY: [6379, 6379, 6379], headerX: [714, 1032, 1345], captionY: 7874, smooth: 0.3,
    series: [
      { name: 'eP8c1', data: e_P8_c1, style: 'c1r1', col: 0, row: 0 },
      { name: 'eP9c1', data: e_P9_c1, style: 'c1r2', col: 0, row: 1 },
      { name: 'eP8c2', data: e_P8_c2, style: 'c2r1', col: 1, row: 0 },
      { name: 'eP9c2', data: e_P9_c2, style: 'c2r2', col: 1, row: 1 },
      { name: 'eP8c3', data: e_P8_c3, style: 'c3r1', col: 2, row: 0 },
      { name: 'eP9c3', data: e_P9_c3, style: 'c3r2', col: 2, row: 1 },
    ],
  },
];

const GRID_LEFT = 339;
const GRID_WIDTH = 1299;
const LEG_X = [653, 970, 1283];
const LEG_W = 130;

function buildOption() {
  const grid: any[] = [];
  const xAxis: any[] = [];
  const yAxis: any[] = [];
  const series: any[] = [];
  const legend: any[] = [];
  const graphic: any[] = [];
  const tickLine = { color: '#000', width: 3 };
  const numRich = { n: { fontFamily: SERIF, fontSize: 66, color: '#000' } };
  const nameStyle = { fontFamily: SERIF, fontSize: 66, color: '#000', rich: { i: { fontFamily: SERIF, fontSize: 66, fontStyle: 'italic', color: '#000' } } };

  PANELS.forEach((p, i) => {
    grid.push({ left: GRID_LEFT, top: p.top, width: GRID_WIDTH, height: p.height, show: true, borderColor: '#000', borderWidth: 3, backgroundColor: 'transparent' });
    xAxis.push({
      type: 'value', gridIndex: i, min: 0, max: 0.75, position: 'bottom',
      axisLine: { show: true, onZero: false, lineStyle: tickLine },
      axisTick: { show: true, inside: true, length: 22, lineStyle: tickLine, customValues: xTickVals },
      axisLabel: {
        show: true, customValues: xTickVals, margin: 24, fontFamily: SERIF, fontSize: 66, color: '#000',
        formatter: (v: number) => '{n|' + String(v) + '}', rich: numRich,
      },
      splitLine: { show: false },
      name: '{i|t}/s', nameLocation: 'middle', nameGap: 136, nameTextStyle: nameStyle,
    });
    xAxis.push({
      type: 'value', gridIndex: i, min: 0, max: 0.75, position: 'bottom',
      axisLine: { show: false, onZero: false },
      axisTick: { show: true, inside: true, length: 12, lineStyle: tickLine, customValues: xMinorVals },
      axisLabel: { show: false }, splitLine: { show: false },
    });
    yAxis.push({
      type: 'value', gridIndex: i, min: p.yMin, max: p.yMax, position: 'left',
      axisLine: { show: true, onZero: false, lineStyle: tickLine },
      axisTick: { show: true, inside: true, length: 22, lineStyle: tickLine, customValues: p.yTicks },
      axisLabel: {
        show: true, customValues: p.yTicks, margin: 24, fontFamily: SERIF, fontSize: 66, color: '#000', rich: numRich,
        formatter: (v: number) => { const k = p.yTicks.indexOf(v); return '{n|' + (k >= 0 ? p.yLabels[k] : String(v)) + '}'; },
      },
      splitLine: { show: false },
      name: '{i|p}/kPa', nameLocation: 'middle', nameGap: 170, nameTextStyle: nameStyle,
    });
    yAxis.push({
      type: 'value', gridIndex: i, min: p.yMin, max: p.yMax, position: 'left',
      axisLine: { show: false, onZero: false },
      axisTick: { show: true, inside: true, length: 12, lineStyle: tickLine, customValues: p.yMinor },
      axisLabel: { show: false }, splitLine: { show: false },
    });

    p.series.forEach((s) => {
      const st = STYLE[s.style];
      series.push({
        type: 'line', name: s.name, xAxisIndex: i * 2, yAxisIndex: i * 2, data: s.data,
        showSymbol: false, symbol: 'none', smooth: p.smooth, clip: true, silent: true,
        lineStyle: { color: st.color, width: 3, type: st.type },
        itemStyle: { color: st.color },
      });
      legend.push({
        show: true, data: [s.name], left: LEG_X[s.col], top: p.rowY[s.row] - 4,
        orient: 'horizontal', itemWidth: LEG_W, itemHeight: 4, itemGap: 0, padding: 0,
        selectedMode: false, formatter: () => '', textStyle: { fontSize: 4 },
        itemStyle: { color: 'rgba(0,0,0,0)', borderColor: 'rgba(0,0,0,0)', borderWidth: 0, opacity: 0 },
        lineStyle: { width: 3, color: st.color, type: st.type, opacity: 1 },
      });
    });

    conditions.forEach((c, k) => {
      graphic.push({ type: 'text', x: p.headerX[k], y: p.headerY[k], style: { text: c, fontFamily: MIXED, fontSize: 60, fill: '#000', align: 'center', verticalAlign: 'middle' } });
    });
    p.rows.forEach((r, k) => {
      graphic.push({ type: 'text', x: 553, y: p.rowY[k], style: { text: 'P', fontFamily: SERIF, fontSize: 66, fontStyle: 'italic', fill: '#000', align: 'left', verticalAlign: 'middle' } });
      graphic.push({ type: 'text', x: 598, y: p.rowY[k] + 24, style: { text: r, fontFamily: SERIF, fontSize: 38, fill: '#000', align: 'left', verticalAlign: 'middle' } });
    });
    graphic.push({ type: 'text', x: 989, y: p.captionY, style: { text: captions[i], fontFamily: MIXED, fontSize: 64, fill: '#000', align: 'center', verticalAlign: 'middle' } });
  });

  return { animation: false, backgroundColor: '#ffffff', grid, xAxis, yAxis, series, legend, graphic };
}

export default function App() {
  const ref = useRef<HTMLDivElement>(null);
  useEffect(() => {
    document.body.style.margin = '0';
    if (!ref.current) return;
    const chart = echarts.init(ref.current, null, { renderer: 'svg', width: W, height: H });
    chart.setOption(buildOption() as any);
    return () => { chart.dispose(); };
  }, []);
  return <div ref={ref} style={{ width: W, height: H, background: '#fff', margin: 0, padding: 0 }} />;
}
